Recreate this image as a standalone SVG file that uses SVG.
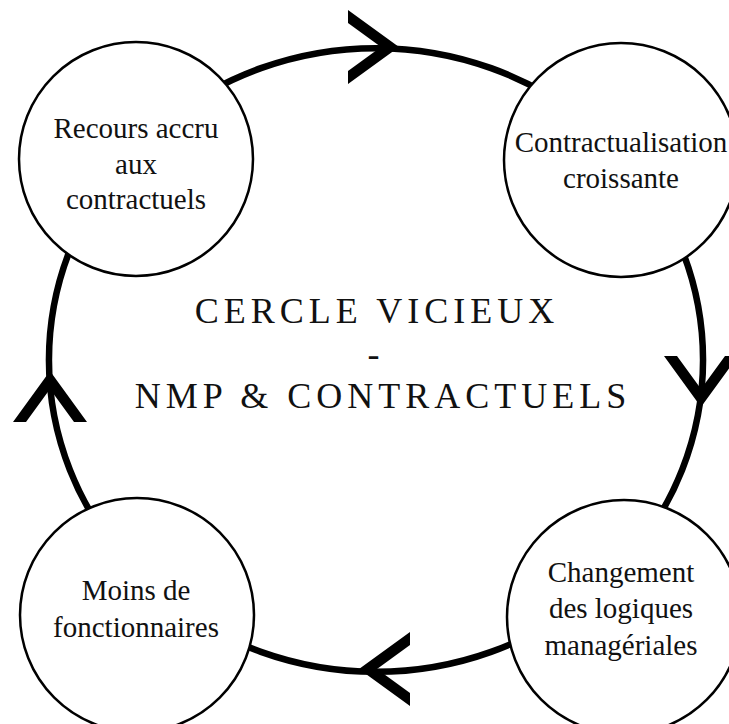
<svg xmlns="http://www.w3.org/2000/svg" width="729" height="724" viewBox="0 0 729 724">
<style>
.bg{fill:#fff}
.loop{fill:none;stroke:#000;stroke-width:6.5}
.head{fill:#000}
.node{fill:#fff;stroke:#000;stroke-width:2.5}
text{font-family:'Liberation Serif','DejaVu Serif',serif}
.lbl{font-size:29px;fill:#111;text-anchor:middle}
.title{font-size:36px;fill:#111;text-anchor:middle;letter-spacing:5px}
</style>
<defs>
<polygon id="chev" points="-49,-37 2,0 -49,37 -49,24 -16,0 -49,-24"/>
</defs>
<rect class="bg" x="0" y="0" width="729" height="724"/>
<g id="connectors">
<path class="loop" d="M166,121 A327,312 0 0 1 586,121"/>
<path class="loop" d="M626.5,159.4 A327,312 0 0 1 626.5,560.6"/>
<path class="loop" d="M586,599 A327,312 0 0 1 166,599"/>
<path class="loop" d="M125.5,560.6 A327,312 0 0 1 125.5,159.4"/>
<use class="head" href="#chev" transform="translate(397,47)"/>
<use class="head" href="#chev" transform="translate(701,405) rotate(90)"/>
<use class="head" href="#chev" transform="translate(361,669) rotate(180)"/>
<use class="head" href="#chev" transform="translate(50,373) rotate(-90)"/>
</g>
<g id="title" font-family="Liberation Serif, serif">
<text class="title" x="377" y="323">CERCLE VICIEUX</text>
<text class="title" x="376" y="366">-</text>
<text class="title" x="383" y="408">NMP &amp; CONTRACTUELS</text>
</g>
<g id="node-recours" font-family="Liberation Serif, serif">
<circle class="node" cx="136" cy="159" r="117"/>
<text class="lbl" x="136" y="138">Recours accru</text>
<text class="lbl" x="136" y="174">aux</text>
<text class="lbl" x="136" y="209">contractuels</text>
</g>
<g id="node-contractualisation" font-family="Liberation Serif, serif">
<circle class="node" cx="621" cy="160" r="117"/>
<text class="lbl" x="621" y="152">Contractualisation</text>
<text class="lbl" x="621" y="188">croissante</text>
</g>
<g id="node-changement" font-family="Liberation Serif, serif">
<circle class="node" cx="624" cy="617" r="117"/>
<text class="lbl" x="621" y="582">Changement</text>
<text class="lbl" x="621" y="618">des logiques</text>
<text class="lbl" x="621" y="655">managériales</text>
</g>
<g id="node-moins" font-family="Liberation Serif, serif">
<circle class="node" cx="137" cy="615" r="117"/>
<text class="lbl" x="136" y="600">Moins de</text>
<text class="lbl" x="136" y="637">fonctionnaires</text>
</g>
</svg>
